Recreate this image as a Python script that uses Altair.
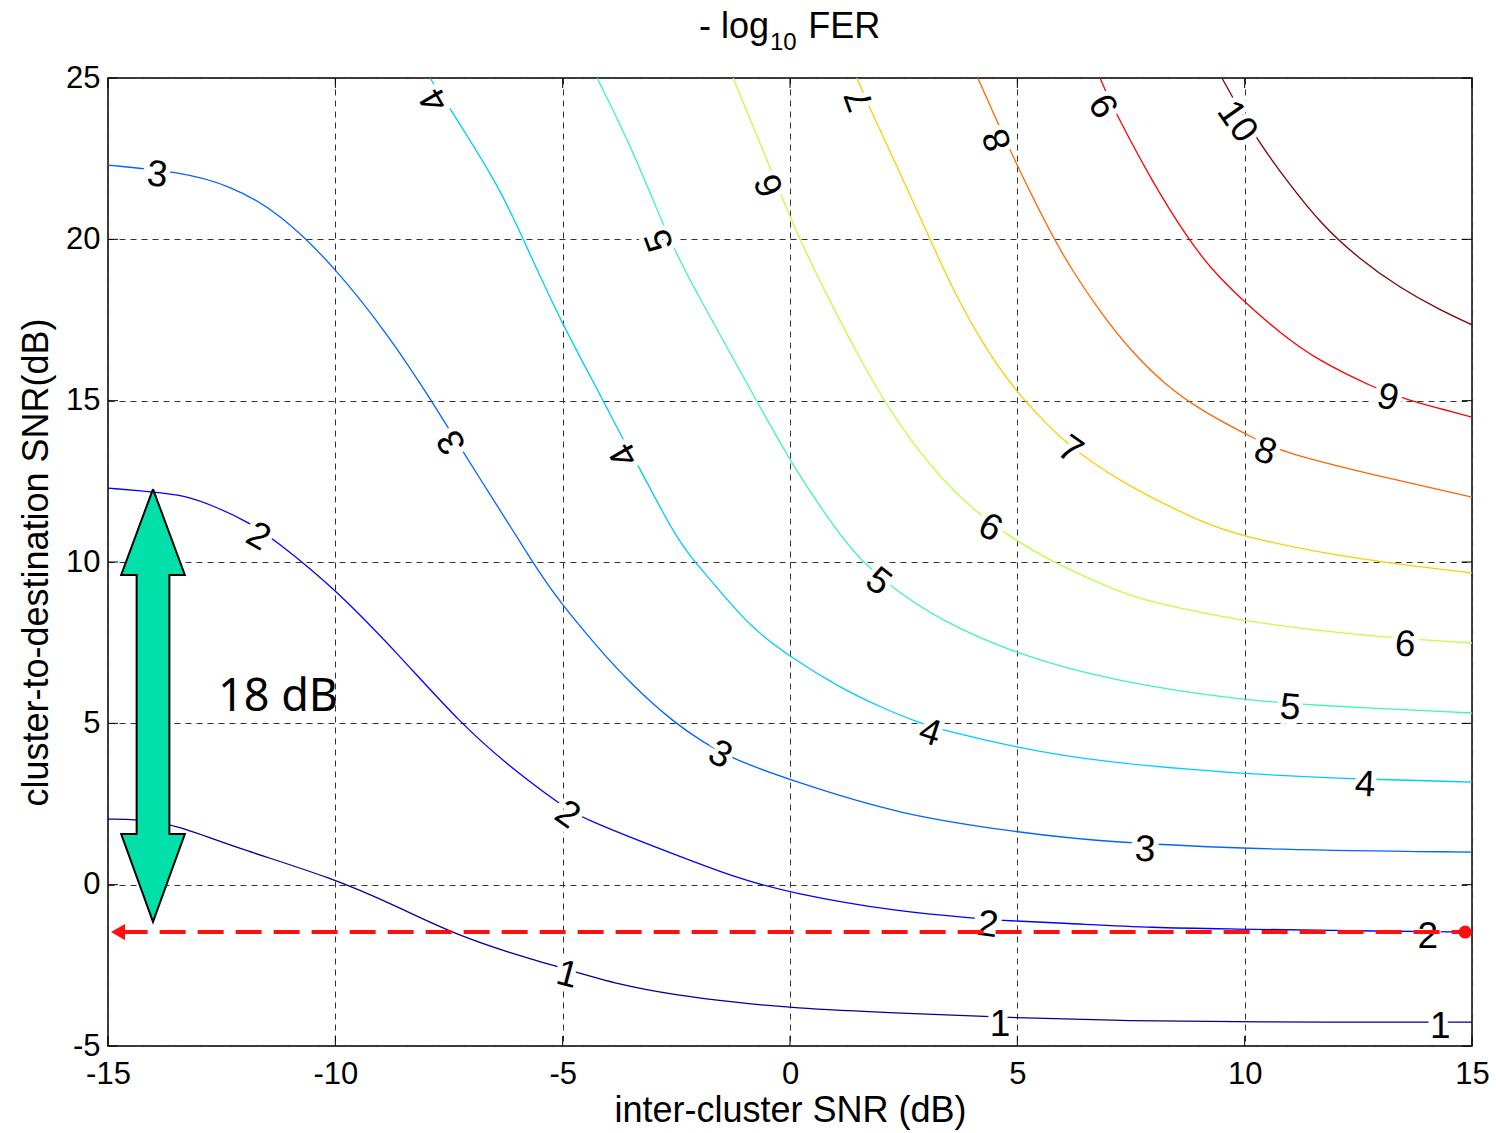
import altair as alt
import pandas as pd

# ---------------- data ----------------
levels = [1, 2, 3, 4, 5, 6, 7, 8, 9, 10]
level_colors = ["#000099", "#0000FF", "#0066FF", "#00CCFF", "#40F5B5",
                "#BFFF40", "#FFCC00", "#FF6600", "#FF0000", "#800000"]

c1_x = [-15, -14.36, -13.48, -12.25, -10.05, -8.58, -7.48, -6.16, -5.01, -3.74, -2.51, -1.25, 0, 2.42, 5.0, 7.48, 9.98, 15]
c1_y = [2.03, 2.03, 1.85, 1.17, 0.21, -0.72, -1.47, -2.12, -2.58, -3.11, -3.42, -3.64, -3.82, -3.98, -4.13, -4.22, -4.26, -4.26]

c2_x = [-15, -14.01, -13.35, -12.60, -11.88, -11.33, -10.05, -8.64, -7.26, -6.16, -5.12, -4.62, -2.51, -1.25, 0, 2.42, 4.09, 4.77, 6.0, 8.03, 9.68, 12.28, 15]
c2_y = [12.29, 12.17, 12.08, 11.70, 11.21, 10.68, 9.23, 7.18, 5.01, 3.65, 2.56, 2.07, 0.92, 0.24, -0.26, -0.85, -1.04, -1.12, -1.19, -1.34, -1.37, -1.43, -1.47]

c3_x = [-15, -13.42, -12.32, -11.22, -9.99, -8.80, -7.92, -7.19, -6.38, -5.65, -5.10, -4.24, -3.52, -2.57, -1.91, -1.32, 0, 2.42, 5.0, 6.82, 10.78, 15]
c3_y = [22.30, 22.09, 21.68, 20.82, 19.11, 16.97, 15.08, 13.41, 11.61, 9.97, 8.82, 7.37, 6.25, 5.04, 4.42, 3.93, 3.24, 2.16, 1.63, 1.32, 1.07, 1.01]

c4_x = [-7.92, -7.48, -6.38, -5.87, -5.06, -4.11, -3.67, -3.34, -2.57, -2.13, -1.69, -0.88, 0, 1.10, 1.98, 2.79, 3.45, 5.0, 6.82, 9.96, 12.32, 15]
c4_y = [25, 24.07, 21.59, 20.01, 17.50, 15.02, 13.78, 13.01, 10.90, 10.06, 9.35, 7.99, 7.06, 6.10, 5.51, 5.04, 4.76, 4.24, 3.80, 3.43, 3.28, 3.18]

c5_x = [-4.24, -3.45, -2.79, -2.35, -1.54, -0.73, 0.11, 0.99, 1.54, 2.31, 3.30, 5.0, 7.21, 9.96, 11.37, 15]
c5_y = [25, 22.74, 20.44, 19.11, 17.04, 14.99, 12.85, 11.05, 10.06, 9.13, 8.20, 7.12, 6.28, 5.72, 5.57, 5.32]

c6_x = [-1.25, -0.40, -0.15, 0.22, 0.73, 1.50, 2.31, 3.36, 4.24, 4.73, 5.65, 7.26, 7.76, 9.96, 12.82, 15]
c6_y = [25, 22.09, 21.22, 19.98, 18.49, 16.38, 14.40, 12.48, 11.39, 10.90, 10.06, 9.07, 8.82, 8.14, 7.68, 7.49]

c7_x = [1.47, 1.80, 2.42, 3.01, 3.58, 4.29, 4.95, 5.56, 5.94, 6.42, 7.26, 9.02, 9.96, 12.38, 15]
c7_y = [25, 23.92, 22.06, 20.23, 18.43, 16.63, 15.33, 14.40, 13.87, 13.32, 12.48, 11.24, 10.78, 10.09, 9.66]

c8_x = [4.13, 4.62, 5.06, 5.78, 6.20, 6.82, 7.48, 8.25, 9.02, 10.27, 10.82, 12.82, 15]
c8_y = [25, 23.45, 22.09, 20.07, 19.05, 17.75, 16.57, 15.49, 14.71, 13.78, 13.41, 12.70, 12.01]

c9_x = [6.82, 6.93, 7.19, 7.98, 8.73, 9.24, 10.01, 10.78, 11.59, 12.87, 13.48, 15]
c9_y = [25, 24.63, 23.85, 21.75, 20.07, 19.11, 18.03, 17.10, 16.26, 15.39, 15.05, 14.49]

c10_x = [9.50, 9.68, 10.27, 11.0, 11.66, 12.49, 13.42, 14.30, 15]
c10_y = [25, 24.54, 23.08, 21.68, 20.51, 19.42, 18.49, 17.81, 17.35]

curves_x = [c1_x, c2_x, c3_x, c4_x, c5_x, c6_x, c7_x, c8_x, c9_x, c10_x]
curves_y = [c1_y, c2_y, c3_y, c4_y, c5_y, c6_y, c7_y, c8_y, c9_y, c10_y]

# contour labels: level, x, y, rotation angle
lab_level = [1, 1, 1, 2, 2, 2, 2, 3, 3, 3, 3, 4, 4, 4, 4, 5, 5, 5, 6, 6, 6, 7, 7, 8, 8, 9, 9, 10]
lab_x = [-4.90, 4.62, 14.30, -11.70, -4.90, 4.35, 14.03, -13.92, -7.43, -1.54, 7.81,
         -7.81, -3.63, 3.08, 12.65, -2.86, 1.94, 11.0, -0.44, 4.40, 13.53, 1.54, 6.16,
         4.57, 10.45, 6.93, 13.15, 9.83]
lab_y = [-2.80, -4.35, -4.41, 10.78, 2.16, -1.25, -1.62, 21.99, 13.72, 4.02, 1.07,
         24.32, 13.32, 4.70, 3.09, 19.98, 9.38, 5.48, 21.68, 11.05, 7.43, 24.32, 13.47,
         23.08, 13.41, 24.16, 15.08, 23.64]
lab_angle = [15, 0, 0, 30, 35, 8, 0, 5, 240, 28, 3, 240, 240, 18, 3, 250, 38, 5,
             248, 28, 5, 250, 35, 250, 20, 240, 15, 55]

# green double arrow (18 dB span), outline polygon
arrow_x = [-14.01, -13.31, -13.65, -13.65, -13.31, -14.01, -14.71, -14.37, -14.37, -14.71, -14.01]
arrow_y = [12.26, 9.6, 9.6, 1.57, 1.57, -1.15, 1.57, 1.57, 9.6, 9.6, 12.26]

# red dashed reference line
red_y = -1.47
red_x_start = -14.7
red_x_end = 14.85

x_ticks = [-15, -10, -5, 0, 5, 10, 15]
y_ticks = [-5, 0, 5, 10, 15, 20, 25]

# title pieces ("- log", subscript "10", "FER")
title_txt = ["- log", "10", "FER"]
title_x = [-0.46, -0.44, 0.40]
title_y = [26.24, 25.87, 26.24]
title_size = [36, 24, 36]
title_align = ["right", "left", "left"]

# ---------------- tables ----------------
rows = []
for lv, xs, ys in zip(levels, curves_x, curves_y):
    for i, (a, b) in enumerate(zip(xs, ys)):
        rows.append({"level": lv, "x": a, "y": b, "o": i})
lines_df = pd.DataFrame(rows)

labels_df = pd.DataFrame({"level": lab_level, "x": lab_x, "y": lab_y, "angle": lab_angle})
labels_df["txt"] = labels_df["level"].astype(str)

arrow_df = pd.DataFrame({"x": arrow_x, "y": arrow_y, "o": list(range(len(arrow_x)))})
red_df = pd.DataFrame({"x": [red_x_start], "x2": [red_x_end], "y": [red_y]})
red_head_df = pd.DataFrame({"x": [-14.78], "y": [red_y]})
red_dot_df = pd.DataFrame({"x": [red_x_end], "y": [red_y]})
note_df = pd.DataFrame({"x": [-11.26], "y": [5.82], "txt": ["18 dB"]})

tick_len_x = 10 / 45.467
tick_len_y = 10 / 32.267
tick_rows = []
for t in x_ticks:
    tick_rows.append({"x": t, "x2": t, "y": -5, "y2": -5 + tick_len_y})
    tick_rows.append({"x": t, "x2": t, "y": 25, "y2": 25 - tick_len_y})
for t in y_ticks:
    tick_rows.append({"x": -15, "x2": -15 + tick_len_x, "y": t, "y2": t})
    tick_rows.append({"x": 15, "x2": 15 - tick_len_x, "y": t, "y2": t})
ticks_df = pd.DataFrame(tick_rows)

FONT = "Liberation Sans"
xscale = alt.Scale(domain=[-15, 15], nice=False, zero=False)
yscale = alt.Scale(domain=[-5, 25], nice=False, zero=False)
xaxis = alt.Axis(values=x_ticks, labelExpr="'' + datum.value", title="inter-cluster SNR (dB)",
                 labelPadding=13, titlePadding=4, grid=True, labelFlush=False, labelOverlap=False)
yaxis = alt.Axis(values=y_ticks, labelExpr="'' + datum.value", title="cluster-to-destination SNR(dB)",
                 labelPadding=8, titlePadding=10, grid=True, labelFlush=False, labelOverlap=False)


def X(field="x"):
    return alt.X(f"{field}:Q", scale=xscale, axis=xaxis, title="inter-cluster SNR (dB)")


def Y(field="y"):
    return alt.Y(f"{field}:Q", scale=yscale, axis=yaxis, title="cluster-to-destination SNR(dB)")


lines = alt.Chart(lines_df).mark_line(strokeWidth=1.3, interpolate="basis", clip=True).encode(
    x=X(), y=Y(),
    color=alt.Color("level:O", scale=alt.Scale(domain=levels, range=level_colors), legend=None),
    detail="level:O",
    order="o:Q",
)

halo = alt.Chart(labels_df).mark_text(font=FONT, fontSize=37, stroke="white", strokeWidth=10,
                                      fill="white", align="center", baseline="middle").encode(
    x=X(), y=Y(), text="txt:N", angle=alt.Angle("angle:Q", scale=None))

labels = alt.Chart(labels_df).mark_text(font=FONT, fontSize=37, fill="black",
                                        align="center", baseline="middle").encode(
    x=X(), y=Y(), text="txt:N", angle=alt.Angle("angle:Q", scale=None))

ticks = alt.Chart(ticks_df).mark_rule(color="black", strokeWidth=1).encode(
    x=X(), x2="x2:Q", y=Y(), y2="y2:Q")

arrow = alt.Chart(arrow_df).mark_line(fill="#00E0A8", stroke="black", strokeWidth=2,
                                      interpolate="linear").encode(
    x=X(), y=Y(), order="o:Q")

red_line = alt.Chart(red_df).mark_rule(color="#FF1010", strokeWidth=4, strokeDash=[26, 12]).encode(
    x=X(), x2="x2:Q", y=Y())

red_head = alt.Chart(red_head_df).mark_point(shape="triangle-left", filled=True, color="#FF1010",
                                             size=260, opacity=1).encode(x=X(), y=Y())

red_dot = alt.Chart(red_dot_df).mark_point(shape="circle", filled=True, color="#FF1010",
                                           size=170, opacity=1).encode(x=X(), y=Y())

note = alt.Chart(note_df).mark_text(font="Noto Sans", fontSize=45, color="black",
                                    align="center", baseline="middle").encode(
    x=X(), y=Y(), text="txt:N")

title_parts = []
for t, tx, ty, ts, ta in zip(title_txt, title_x, title_y, title_size, title_align):
    df = pd.DataFrame({"x": [tx], "y": [ty], "txt": [t]})
    title_parts.append(
        alt.Chart(df).mark_text(font=FONT, fontSize=ts, color="black", align=ta,
                                baseline="alphabetic", clip=False).encode(
            x=X(), y=Y(), text="txt:N"))

chart = alt.layer(lines, ticks, halo, labels, arrow, red_line, red_head, red_dot, note,
                  *title_parts).properties(
    width=1364,
    height=968,
    padding={"left": 108, "top": 78, "right": 24, "bottom": 87},
    autosize=alt.AutoSizeParams(type="none"),
    background="white",
).configure_axis(
    labelFont=FONT, labelFontSize=31, labelColor="black",
    titleFont=FONT, titleFontSize=36, titleFontWeight="normal", titleColor="black",
    gridColor="#333333", gridDash=[6, 5], gridWidth=1, gridOpacity=1,
    ticks=False, domain=False,
).configure_view(stroke="black", strokeWidth=1.5)

chart.save("out.html", embed_options={"renderer": "svg", "actions": False})
